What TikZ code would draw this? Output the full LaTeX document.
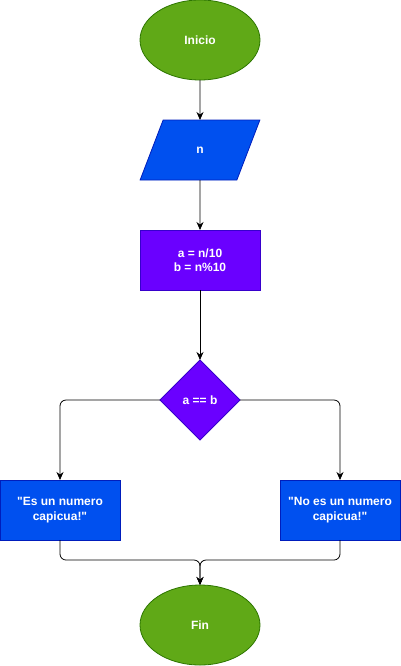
\documentclass[tikz,border=0pt]{standalone}
\usepackage{fontspec}
\setmainfont{Liberation Sans}
\usetikzlibrary{arrows.meta,positioning,shapes.geometric}

\definecolor{verde}{HTML}{60A917}
\definecolor{bordeverde}{HTML}{2D7600}
\definecolor{azul}{HTML}{0050EF}
\definecolor{bordeazul}{HTML}{001DBC}
\definecolor{morado}{HTML}{6A00FF}
\definecolor{bordemorado}{HTML}{3700CC}

\begin{document}
\begin{tikzpicture}[node distance=40pt, auto, font=\fontsize{12}{14.4}\selectfont\bfseries]
\tikzset{
   terminal/.style={ellipse, draw=bordeverde, fill=verde, text=white, line width=0.8pt, minimum width=120pt, minimum height=80pt, inner sep=0pt, outer sep=0pt},
   entrada/.style={trapezium, trapezium left angle=71.6, trapezium right angle=108.4, trapezium stretches=true, draw=bordeazul, fill=azul, text=white, line width=0.8pt, minimum width=120pt, minimum height=60pt, outer sep=0pt},
   proceso/.style={rectangle, draw=bordemorado, fill=morado, text=white, line width=0.8pt, minimum width=120pt, minimum height=60pt, align=center, outer sep=0pt},
   decision/.style={diamond, draw=bordemorado, fill=morado, text=white, line width=0.8pt, minimum width=80pt, minimum height=80pt, inner sep=0pt, outer sep=0pt},
   salida/.style={rectangle, draw=bordeazul, fill=azul, text=white, line width=0.8pt, minimum width=120pt, minimum height=60pt, align=center, outer sep=0pt},
   flecha/.style={-{Stealth[length=8pt, width=7pt]}, line width=0.8pt, rounded corners=6pt},
}
\useasboundingbox (0,0) rectangle (401pt,-666pt);

\node[terminal] (inicio) at (200pt,-40pt) {Inicio};
\node[entrada, below=40pt of inicio] (n) {n};
\node[proceso, below=50pt of n] (calc) {a = n/10\\ b = n\%10};
\node[decision, below=70pt of calc] (cond) {a == b};
\node[salida, below=40pt of cond, xshift=-140pt] (si) {\textquotedbl Es un numero\\ capicua!\textquotedbl};
\node[salida, below=40pt of cond, xshift=140pt] (no) {\textquotedbl No es un numero\\ capicua!\textquotedbl};
\node[terminal, below=145pt of cond] (fin) {Fin};
\coordinate[above=25pt of fin] (junta);

\draw[flecha] (inicio) -- (n);
\draw[flecha] (n) -- (calc);
\draw[flecha] (calc) -- (cond);
\draw[flecha] (cond.west) -| (si.north);
\draw[flecha] (cond.east) -| (no.north);
\draw[flecha] (si.south) |- (junta) -- (fin.north);
\draw[flecha] (no.south) |- (junta) -- (fin.north);

\end{tikzpicture}
\end{document}
